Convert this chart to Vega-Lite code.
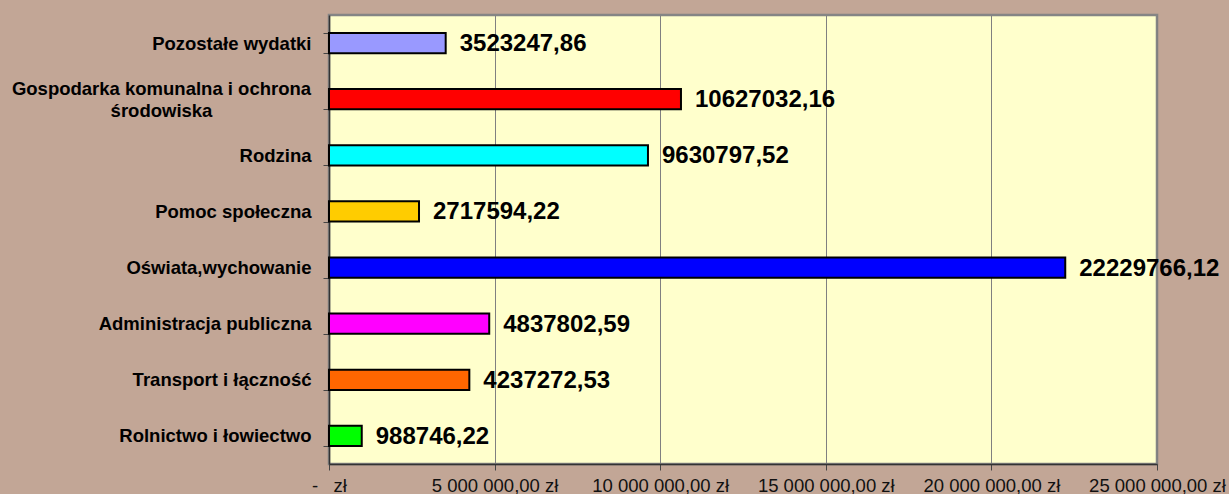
{
  "$schema": "https://vega.github.io/schema/vega-lite/v6.json",
  "width": 828,
  "height": 449,
  "autosize": {"type": "none"},
  "padding": {"left": 329, "top": 15, "right": 72, "bottom": 30},
  "background": "#C2A696",
  "config": {
    "locale": {"number": {"decimal": ",", "thousands": " ", "grouping": [3], "currency": ["", " zł"]}},
    "view": {"fill": "#FFFFCC", "stroke": "#858585", "strokeWidth": 2.5},
    "font": "Liberation Sans"
  },
  "data": {
    "values": [
      {"kategoria": "Pozostałe wydatki", "kwota": 3523247.86},
      {"kategoria": "Gospodarka komunalna i ochrona środowiska", "kwota": 10627032.16},
      {"kategoria": "Rodzina", "kwota": 9630797.52},
      {"kategoria": "Pomoc społeczna", "kwota": 2717594.22},
      {"kategoria": "Oświata,wychowanie", "kwota": 22229766.12},
      {"kategoria": "Administracja publiczna", "kwota": 4837802.59},
      {"kategoria": "Transport i łączność", "kwota": 4237272.53},
      {"kategoria": "Rolnictwo i łowiectwo", "kwota": 988746.22}
    ]
  },
  "encoding": {
    "y": {
      "field": "kategoria",
      "type": "nominal",
      "sort": null,
      "scale": {"paddingInner": 0.64, "paddingOuter": 0.32},
      "axis": {
        "title": null,
        "labelFontSize": 18.5,
        "labelFontWeight": "bold",
        "labelColor": "black",
        "labelLimit": 400,
        "labelLineHeight": 22,
        "labelExpr": "datum.value == 'Gospodarka komunalna i ochrona środowiska' ? ['Gospodarka komunalna i ochrona', 'środowiska'] : datum.value",
        "labelAlign": {"condition": {"test": "datum.value == 'Gospodarka komunalna i ochrona środowiska'", "value": "center"}, "value": "right"},
        "labelPadding": {"condition": {"test": "datum.value == 'Gospodarka komunalna i ochrona środowiska'", "value": 162}, "value": 12},
        "labelOffset": {"condition": {"test": "datum.value == 'Gospodarka komunalna i ochrona środowiska'", "value": -11}, "value": 0},
        "tickSize": 6,
        "tickBand": "extent",
        "tickColor": "#444444",
        "domainColor": "#333333",
        "domainWidth": 1.5,
        "grid": false
      }
    },
    "x": {
      "field": "kwota",
      "type": "quantitative",
      "scale": {"domain": [0, 25000000], "nice": false},
      "axis": {
        "title": null,
        "values": [0, 5000000, 10000000, 15000000, 20000000, 25000000],
        "labelExpr": "datum.value == 0 ? '-\u00a0\u00a0\u00a0zł' : format(datum.value, '$,.2f')",
        "labelFontSize": 18.5,
        "labelColor": "#111111",
        "labelBaseline": "alphabetic",
        "labelPadding": 21,
        "labelFlush": false,
        "labelOverlap": false,
        "tickSize": 6,
        "tickColor": "#444444",
        "domainColor": "#333333",
        "domainWidth": 1.5,
        "grid": true,
        "gridColor": "#808080",
        "gridWidth": 1
      }
    }
  },
  "layer": [
    {
      "mark": {"type": "bar", "stroke": "black", "strokeWidth": 2},
      "encoding": {
        "color": {
          "field": "kategoria",
          "type": "nominal",
          "legend": null,
          "scale": {
            "domain": ["Pozostałe wydatki", "Gospodarka komunalna i ochrona środowiska", "Rodzina", "Pomoc społeczna", "Oświata,wychowanie", "Administracja publiczna", "Transport i łączność", "Rolnictwo i łowiectwo"],
            "range": ["#9999FF", "#FF0000", "#00FFFF", "#FFCC00", "#0000FF", "#FF00FF", "#FF6600", "#00FF00"]
          }
        }
      }
    },
    {
      "mark": {"type": "text", "align": "left", "baseline": "middle", "dx": 14, "dy": 1, "fontSize": 24, "fontWeight": "bold", "color": "black"},
      "encoding": {
        "text": {"field": "kwota", "type": "quantitative", "format": ".2f"}
      }
    }
  ]
}
